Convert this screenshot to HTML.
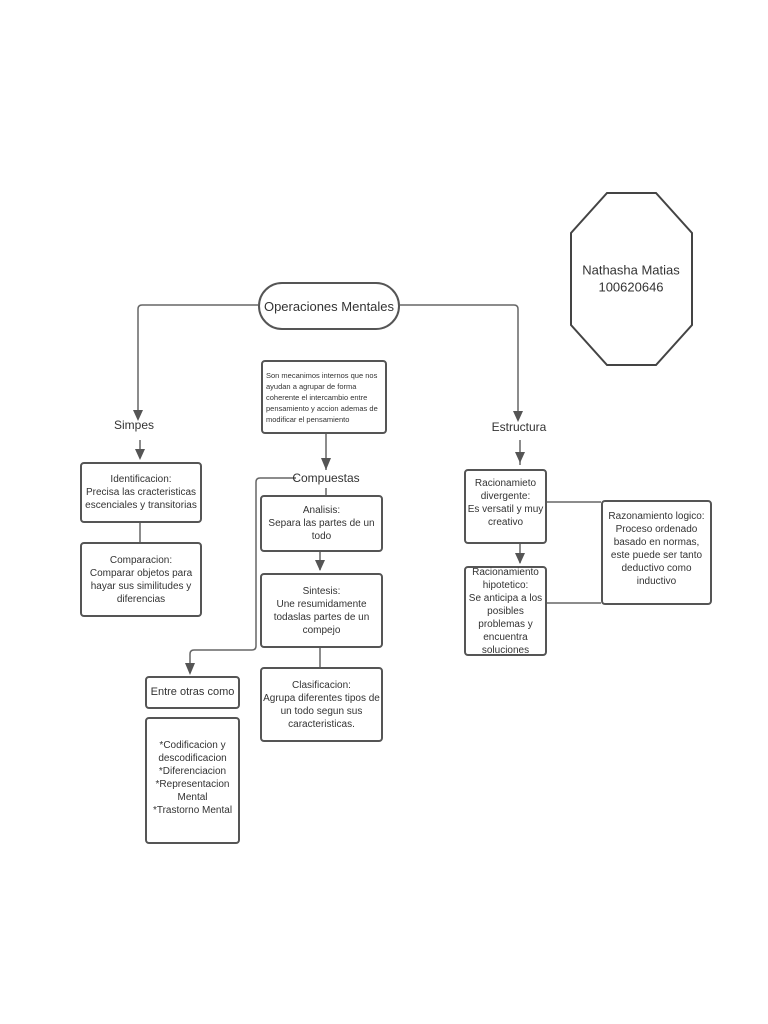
<!DOCTYPE html>
<html><head><meta charset="utf-8"><style>
html,body{margin:0;padding:0;background:#fff;}
body{width:768px;height:1024px;position:relative;overflow:hidden;font-family:"Liberation Sans",sans-serif;color:#333;}
.b{position:absolute;border:2px solid #555;border-radius:4px;box-sizing:border-box;background:#fff;display:flex;align-items:center;justify-content:center;text-align:center;font-size:10px;line-height:13px;}
.t{position:absolute;font-size:12px;transform:translate(-50%,-50%);white-space:nowrap;}
</style></head><body>
<svg width="768" height="1024" style="position:absolute;left:0;top:0">
<defs><marker id="a" markerWidth="8" markerHeight="8" refX="4" refY="7" orient="auto" markerUnits="userSpaceOnUse"><path d="M0,0 L8,0 L4,8 Z" fill="#555" transform="rotate(-90 4 4) rotate(90 4 4)"/></marker></defs>
<g stroke="#666" stroke-width="1.5" fill="none">
<polygon points="607,193 656,193 692,233 692,325 656,365 607,365 571,325 571,233" stroke="#444" stroke-width="2"/>
<path d="M258,305 H142 Q138,305 138,309 V412"/>
<path d="M400,305 H514 Q518,305 518,309 V414"/>
<path d="M140,440 V458"/>
<path d="M520,440 V465"/>
<path d="M140,523 V542"/>
<path d="M326,434 V470"/>
<path d="M296,478 H260 Q256,478 256,482 V646 Q256,650 252,650 H194 Q190,650 190,654 V673"/>
<path d="M326,488 V495"/>
<path d="M320,552 V570"/>
<path d="M320,648 V667"/>
<path d="M520,544 V563"/>
<path d="M547,502 H601"/>
<path d="M547,603 H601"/>
</g>
<g fill="#555">
<path d="M133,410 L143,410 L138,421 Z"/>
<path d="M513,411 L523,411 L518,422 Z"/>
<path d="M135,449 L145,449 L140,460 Z"/>
<path d="M515,452 L525,452 L520,463 Z"/>
<path d="M321,458 L331,458 L326,470 Z"/>
<path d="M315,560 L325,560 L320,571 Z"/>
<path d="M515,553 L525,553 L520,564 Z"/>
<path d="M185,663 L195,663 L190,675 Z"/>
</g>
</svg>
<div class="b" style="left:258px;top:282px;width:142px;height:48px;border-radius:24px;font-size:13px;">Operaciones Mentales</div>
<div class="t" style="left:631px;top:270px;font-size:13px">Nathasha Matias</div>
<div class="t" style="left:631px;top:287px;font-size:13px">100620646</div>
<div class="t" style="left:134px;top:425px">Simpes</div>
<div class="t" style="left:519px;top:427px">Estructura</div>
<div class="t" style="left:326px;top:478px">Compuestas</div>
<div class="b" style="left:261px;top:360px;width:126px;height:74px;font-size:7.5px;line-height:11px;text-align:left;justify-content:flex-start;padding:2px 3px;">Son mecanimos internos que nos ayudan a agrupar de forma coherente el intercambio entre pensamiento y accion ademas de modificar el pensamiento</div>
<div class="b" style="left:80px;top:462px;width:122px;height:61px">Identificacion:<br>Precisa las cracteristicas escenciales y transitorias</div>
<div class="b" style="left:80px;top:542px;width:122px;height:75px">Comparacion:<br>Comparar objetos para hayar sus similitudes y diferencias</div>
<div class="b" style="left:260px;top:495px;width:123px;height:57px">Analisis:<br>Separa las partes de un todo</div>
<div class="b" style="left:260px;top:573px;width:123px;height:75px;padding:0 8px">Sintesis:<br>Une resumidamente todaslas partes de un compejo</div>
<div class="b" style="left:260px;top:667px;width:123px;height:75px">Clasificacion:<br>Agrupa diferentes tipos de un todo segun sus caracteristicas.</div>
<div class="b" style="left:145px;top:676px;width:95px;height:33px;font-size:11px">Entre otras como</div>
<div class="b" style="left:145px;top:717px;width:95px;height:127px;align-items:flex-start;padding-top:20px">*Codificacion y descodificacion<br>*Diferenciacion<br>*Representacion Mental<br>*Trastorno Mental</div>
<div class="b" style="left:464px;top:469px;width:83px;height:75px;align-items:flex-start;padding-top:6px">Racionamieto divergente:<br>Es versatil y muy creativo</div>
<div class="b" style="left:464px;top:566px;width:83px;height:90px;padding:0 2px">Racionamiento hipotetico:<br>Se anticipa a los posibles problemas y encuentra soluciones</div>
<div class="b" style="left:601px;top:500px;width:111px;height:105px;align-items:flex-start;padding-top:8px">Razonamiento logico:<br>Proceso ordenado basado en normas, este puede ser tanto deductivo como inductivo</div>
</body></html>
